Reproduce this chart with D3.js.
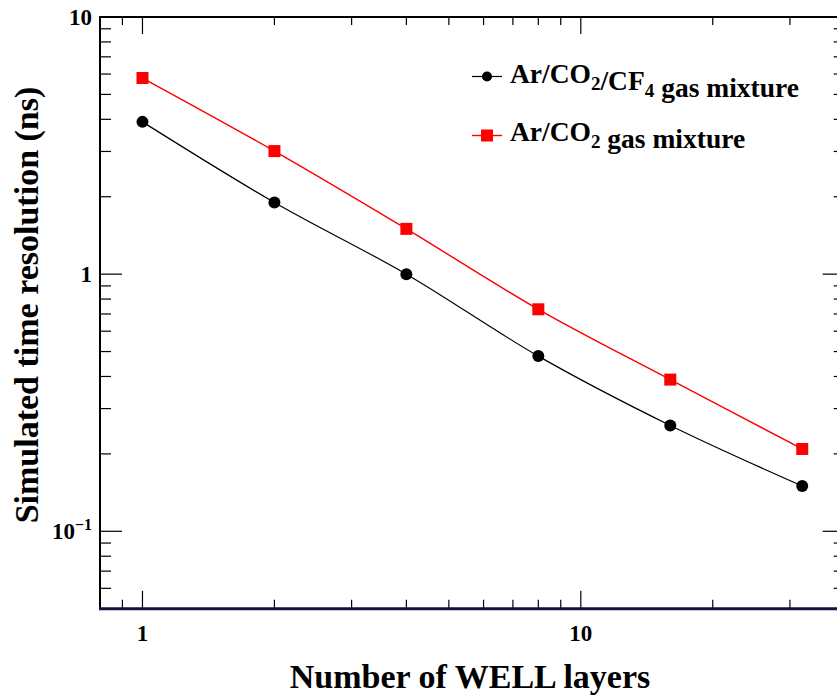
<!DOCTYPE html>
<html><head><meta charset="utf-8">
<script src="https://cdn.jsdelivr.net/npm/d3@7"></script>
<style>
html,body{margin:0;padding:0;background:#fff;overflow:hidden;}
svg{display:block;}
</style></head>
<body>
<svg id="c" width="837" height="696"></svg>
<script>
// ---- data ----
const layers = [1, 2, 4, 8, 16, 32];
const resArCO2CF4 = [3.91, 1.90, 1.00, 0.48, 0.258, 0.150];
const resArCO2 = [5.79, 3.01, 1.50, 0.73, 0.389, 0.209];
const xTickLabels = [1, 10];
const yTickLabels = [0.1, 1, 10];
const seriesNames = ["Ar/CO2/CF4 gas mixture", "Ar/CO2 gas mixture"];

// ---- layout ----
const FONT = "'Liberation Serif', 'Times New Roman', Times, serif";
const L = 100, T = 17, R = 844.7, B = 608.7;
const svg = d3.select("#c");

const x = d3.scaleLog().domain([0.8, 40]).range([L, R]);
const y = d3.scaleLog().domain([0.05, 10]).range([B, T]);

function txt(sel, size) {
  return sel.append("text").style("font-family", FONT).style("font-weight", "bold").style("font-size", size + "px").attr("fill", "#000");
}

// ticks
const xMajor = [1, 10];
const xMinor = [0.9, 2, 3, 4, 5, 6, 7, 8, 9, 20, 30];
const yMajor = [0.1, 1, 10];
const yMinor = [0.06, 0.07, 0.08, 0.09, 0.2, 0.3, 0.4, 0.5, 0.6, 0.7, 0.8, 0.9, 2, 3, 4, 5, 6, 7, 8, 9];

const g = svg.append("g");
function tick(x1, x2, y1, y2) {
  g.append("line").attr("x1", x1).attr("x2", x2).attr("y1", y1).attr("y2", y2).attr("stroke", "#000").attr("stroke-width", 1.2);
}
xMajor.forEach(v => { tick(x(v), x(v), B, B - 18); tick(x(v), x(v), T, T + 17); });
xMinor.forEach(v => { tick(x(v), x(v), B, B - 9); tick(x(v), x(v), T, T + 8); });
yMajor.forEach(v => { tick(L, L + 22, y(v), y(v)); tick(R, R - 22, y(v), y(v)); });
yMinor.forEach(v => { tick(L, L + 11, y(v), y(v)); tick(R, R - 11, y(v), y(v)); });

// frame
g.append("line").attr("x1", L).attr("x2", R + 2).attr("y1", T).attr("y2", T).attr("stroke", "#000").attr("stroke-width", 2);
g.append("line").attr("x1", L).attr("x2", L).attr("y1", T - 1).attr("y2", B + 1).attr("stroke", "#000").attr("stroke-width", 2);
g.append("line").attr("x1", L - 1).attr("x2", R + 2).attr("y1", B).attr("y2", B).attr("stroke", "#12123f").attr("stroke-width", 3);

// tick labels
xTickLabels.forEach(v => txt(svg, 23).attr("x", x(v)).attr("y", 641).attr("text-anchor", "middle").text(v));
yTickLabels.forEach(v => {
  const t = txt(svg, 23).attr("x", 92).attr("y", y(v) + 8).attr("text-anchor", "end");
  if (v === 0.1) {
    t.append("tspan").text("10");
    t.append("tspan").style("font-size", "16px").attr("dy", -9).text("\u22121");
  } else {
    t.text(v);
  }
});

// axis titles
txt(svg, 34).attr("x", 470).attr("y", 688).attr("text-anchor", "middle").text("Number of WELL layers");
txt(svg, 34).attr("transform", "translate(38,305) rotate(-90)").attr("text-anchor", "middle").text("Simulated time resolution (ns)");

// curves
const line = d3.line().x(d => x(d[0])).y(d => y(d[1])).curve(d3.curveCatmullRom.alpha(0.5));
const blackPts = layers.map((v, i) => [v, resArCO2CF4[i]]);
const redPts = layers.map((v, i) => [v, resArCO2[i]]);
svg.append("path").attr("d", line(blackPts)).attr("fill", "none").attr("stroke", "#000").attr("stroke-width", 1.2);
svg.append("path").attr("d", line(redPts)).attr("fill", "none").attr("stroke", "#ff0000").attr("stroke-width", 1.4);
svg.selectAll("circle.pt").data(blackPts).enter().append("circle").attr("class", "pt")
  .attr("cx", d => x(d[0])).attr("cy", d => y(d[1])).attr("r", 6).attr("fill", "#000");
svg.selectAll("rect.pt").data(redPts).enter().append("rect").attr("class", "pt")
  .attr("x", d => x(d[0]) - 6).attr("y", d => y(d[1]) - 6).attr("width", 12).attr("height", 12).attr("fill", "#ff0000");

// legend
const lg = svg.append("g");
const ly = [76.5, 135.5];
lg.append("line").attr("x1", 472).attr("x2", 502).attr("y1", ly[0]).attr("y2", ly[0]).attr("stroke", "#000").attr("stroke-width", 1.2);
lg.append("circle").attr("cx", 487).attr("cy", ly[0]).attr("r", 5).attr("fill", "#000");
lg.append("line").attr("x1", 472).attr("x2", 502).attr("y1", ly[1]).attr("y2", ly[1]).attr("stroke", "#ff0000").attr("stroke-width", 1.4);
lg.append("rect").attr("x", 481).attr("y", ly[1] - 6).attr("width", 12).attr("height", 12).attr("fill", "#ff0000");

function subText(sel, parts) {
  parts.forEach(p => {
    if (p.sub) {
      sel.append("tspan").style("font-size", "19px").attr("dy", 7).text(p.t);
      sel.append("tspan").attr("dy", -7).text("");
    } else {
      sel.append("tspan").text(p.t);
    }
  });
}
const t1 = txt(lg, 27.5).attr("x", 510).attr("y", 83);
subText(t1, [{t: "Ar/CO"}, {t: "2", sub: true}, {t: "/CF"}, {t: "4", sub: true}, {t: "\u00a0gas mixture"}]);
const t2 = txt(lg, 27.5).attr("x", 510).attr("y", 141);
subText(t2, [{t: "Ar/CO"}, {t: "2", sub: true}, {t: "\u00a0gas mixture"}]);
</script>
</body></html>
